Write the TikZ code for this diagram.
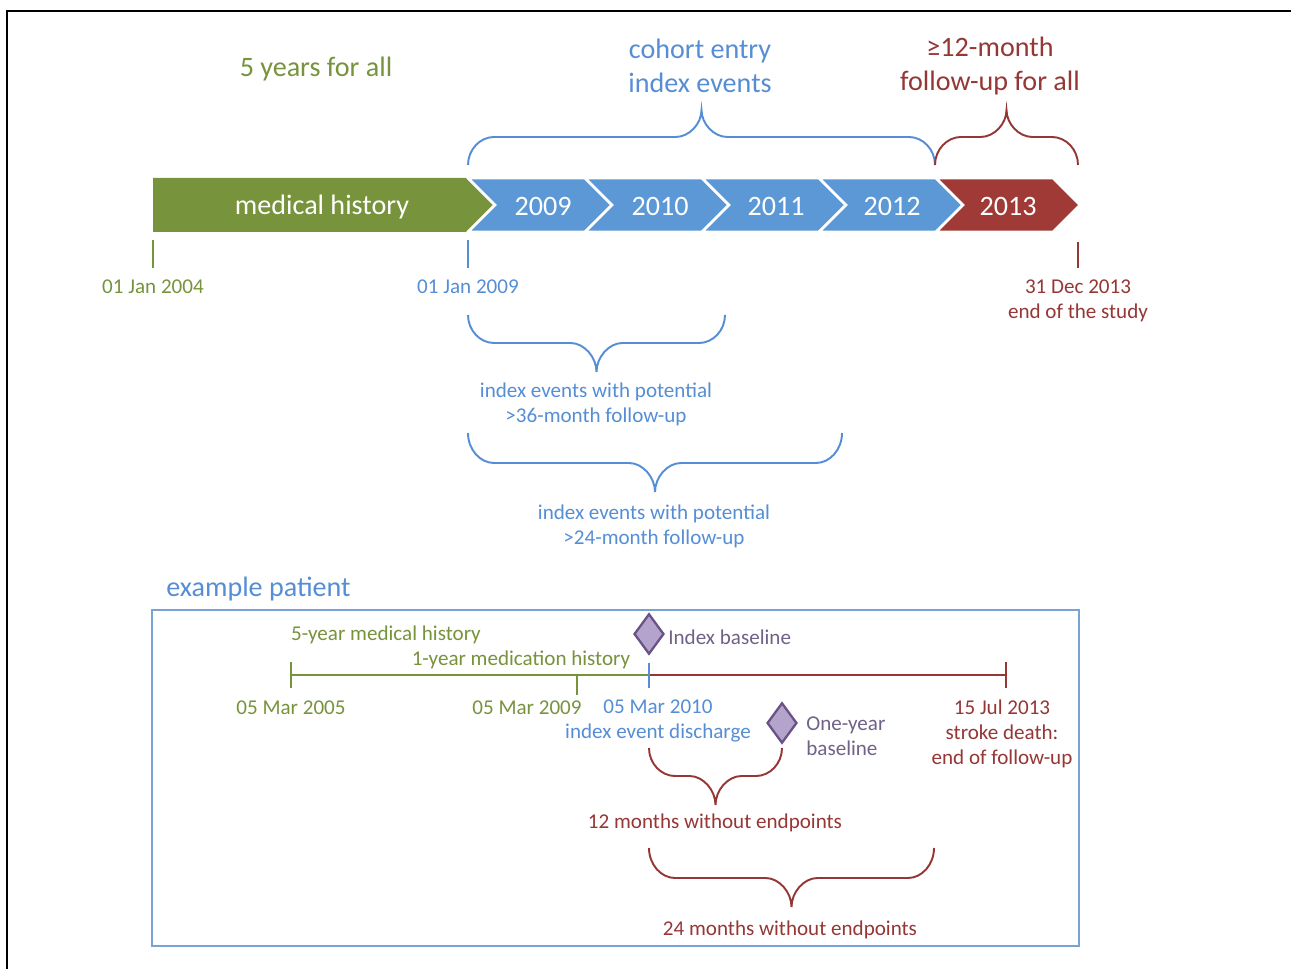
\documentclass[tikz,border=0pt]{standalone}
\usepackage{fontspec}
\setmainfont{Carlito}
\usetikzlibrary{shapes.geometric}
\definecolor{cgreen}{RGB}{119,147,60}
\definecolor{cblue}{RGB}{85,142,213}
\definecolor{cbluefill}{RGB}{91,152,213}
\definecolor{cred}{RGB}{149,55,53}
\definecolor{credfill}{RGB}{160,58,54}
\definecolor{cboxblue}{RGB}{120,163,215}
\definecolor{dfill}{RGB}{180,163,202}
\definecolor{ddraw}{RGB}{104,82,135}
\definecolor{dtext}{RGB}{112,98,135}
\tikzset{
  big/.style={font=\fontsize{16}{19.3}\selectfont},
  small/.style={font=\fontsize{12}{14.2}\selectfont},
  txt/.style={inner sep=0pt},
  gtxt/.style={txt,text=cgreen},
  btxt/.style={txt,text=cblue},
  rtxt/.style={txt,text=cred},
  ptxt/.style={txt,text=dtext},
  wtxt/.style={txt,text=white,big},
  chev/.style={draw=white,line width=1.5pt,line join=miter},
  tick/.style={line width=1.2pt},
  bracestyle/.style={line width=1.1pt},
  tline/.style={line width=1.2pt},
  dia/.style={shape=diamond,draw=ddraw,fill=dfill,line width=1.3pt,inner sep=0pt,minimum width=17pt,minimum height=23pt}
}
% brace: x1, x2, y of ends, y of flat part, y of tip, colour
\newcommand\mybrace[6]{%
  \pgfmathsetmacro\bxm{(#1+#2)/2}%
  \pgfmathsetmacro\bya{#3+0.55*(#4-#3)}%
  \pgfmathsetmacro\byb{#4+0.5*(#5-#4)}%
  \draw[bracestyle,#6] (#1,#3) .. controls (#1,\bya) and ({#1+12},#4) .. ({#1+26},#4) -- ({\bxm-26},#4)
    .. controls ({\bxm-12},#4) and (\bxm,\byb) .. (\bxm,#5) .. controls (\bxm,\byb) and ({\bxm+12},#4) .. ({\bxm+26},#4)
    -- ({#2-26},#4) .. controls ({#2-12},#4) and (#2,\bya) .. (#2,#3);}
\begin{document}
\begin{tikzpicture}[x=0.02cm,y=-0.02cm]
\useasboundingbox (0,0) rectangle (1291,969);
\fill[white] (0,0) rectangle (1291,969);
% outer frame
\draw[line width=1.6pt] (7,969) -- (7,11) -- (1291,11);

% top labels
\node[gtxt,big] (t5y) at (316,69) {5 years for all};
\node[btxt,big,align=center] (tcoh) at (700,66) {cohort entry\\index events};
\node[rtxt,big,align=center] (tfu) at (990,66) {≥12-month\\follow-up for all};

% braces top
\mybrace{468}{935}{165}{137}{110}{cblue}
\mybrace{935}{1078}{165}{137}{110}{cred}

% bar
\fill[cgreen] (153,178) -- (468,178) -- (495,205) -- (468,232) -- (153,232) -- cycle;
\draw[chev] (468,178) -- (495,205) -- (468,232);
\foreach \k in {0,1,2,3}{
  \pgfmathsetmacro\xa{468+117*\k}
  \pgfmathsetmacro\xb{585+117*\k}
  \filldraw[chev,fill=cbluefill] (\xa,178) -- (\xb,178) -- ({\xb+27},205) -- (\xb,232) -- (\xa,232) -- ({\xa+27},205) -- cycle;
}
\filldraw[chev,fill=credfill] (936,178) -- (1053,178) -- (1080,205) -- (1053,232) -- (936,232) -- (963,205) -- cycle;
\node[wtxt] (mh) at (322,207) {medical history};
\node[wtxt] (y2009) at (543,206) {2009};
\node[wtxt] (y2010) at (660,206) {2010};
\node[wtxt] (y2011) at (776,206) {2011};
\node[wtxt] (y2012) at (892,206) {2012};
\node[wtxt] (y2013) at (1008,206) {2013};

% ticks
\draw[tick,cgreen] (153,240) -- (153,268);
\draw[tick,cblue] (468,240) -- (468,268);
\draw[tick,cred] (1078,242) -- (1078,268);
\node[gtxt,small] (d2004) at (153,287) {01 Jan 2004};
\node[btxt,small] (d2009) at (468,287) {01 Jan 2009};
\node[rtxt,small,align=center] (d2013) at (1078,301) {31 Dec 2013\\end of the study};

% lower braces
\mybrace{468}{725}{315}{343}{372}{cblue}
\node[btxt,small,align=center] (b36) at (596,404) {index events with potential\\>36-month follow-up};
\mybrace{468}{842}{433}{463}{492}{cblue}
\node[btxt,small,align=center] (b24) at (654,526) {index events with potential\\>24-month follow-up};

% example patient
\node[btxt,big,anchor=west] (ep) at (166,589) {example patient};
\draw[cboxblue,line width=1.2pt] (152,610) rectangle (1079,946);

\coordinate (p2005) at (291,675);
\coordinate (p2009) at (577,675);
\coordinate (p2010) at (649,675);
\coordinate (p2013) at (1006,675);
\draw[tline,cgreen] (p2005) -- (p2010);
\draw[tline,cred] (p2010) -- (p2013);
\draw[tick,cgreen] (291,662) -- (291,688);
\draw[tick,cgreen] (577,675) -- (577,695);
\draw[tick,cred] (1006,662) -- (1006,688);
\draw[tick,cblue] (649,663) -- (649,688);

\node[gtxt,small] (mh5) at (386,635) {5-year medical history};
\node[gtxt,small] (mh1) at (521,660) {1-year medication history};
\node[dia] (dia1) at (649,634) {};
\node[ptxt,small,anchor=west] (ib) at (668,637) {Index baseline};

\node[gtxt,small] (l2005) at (291,708) {05 Mar 2005};
\node[gtxt,small] (l2009) at (527,708) {05 Mar 2009};
\node[btxt,small,align=center] (l2010) at (658,721) {05 Mar 2010\\index event discharge};
\node[dia] (dia2) at (782,723) {};
\node[ptxt,small,align=left,anchor=west] (oyb) at (806,736) {One-year\\baseline};
\node[rtxt,small,align=center] (l2013) at (1002,734) {15 Jul 2013\\stroke death:\\end of follow-up};

\mybrace{649}{782}{748}{776}{805}{cred}
\node[rtxt,small] (m12) at (715,823) {12 months without endpoints};
\mybrace{649}{934}{848}{878}{907}{cred}
\node[rtxt,small] (m24) at (790,930) {24 months without endpoints};
\end{tikzpicture}
\end{document}
